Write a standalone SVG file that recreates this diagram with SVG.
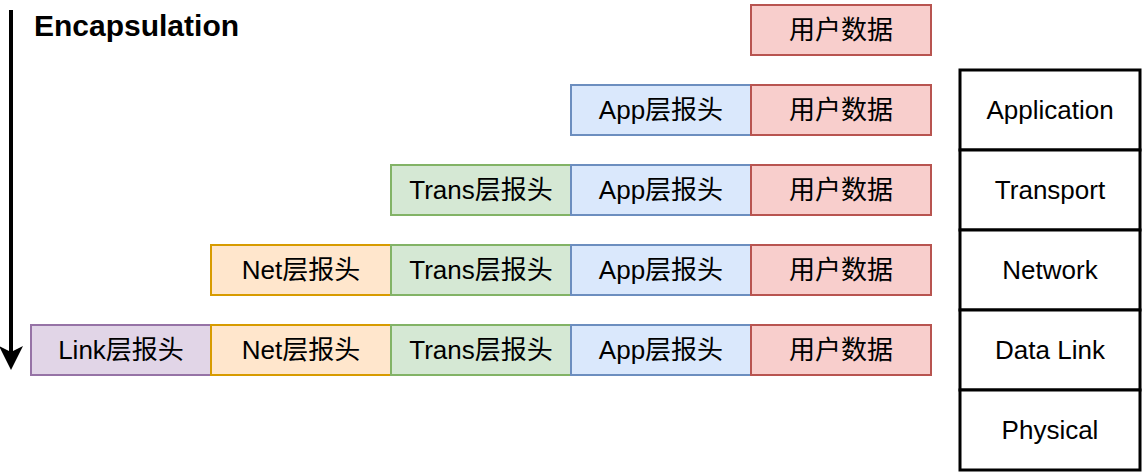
<svg xmlns="http://www.w3.org/2000/svg" width="1142" height="473" viewBox="0 0 1142 473">
<style>
text{font-family:"Liberation Sans","Noto Sans CJK SC",sans-serif;font-size:26px;fill:#000;text-anchor:middle;dominant-baseline:central}
.title{font-size:30px;font-weight:bold;text-anchor:start;dominant-baseline:auto}
rect{stroke-width:2}
.red{fill:#f8cecc;stroke:#b85450}
.blue{fill:#dae8fc;stroke:#6c8ebf}
.green{fill:#d5e8d4;stroke:#82b366}
.orange{fill:#ffe6cc;stroke:#d79b00}
.purple{fill:#e1d5e7;stroke:#9673a6}
.layer{fill:#fff;stroke:#000;stroke-width:3}
</style>
<defs>
<marker id="ah" markerWidth="6" markerHeight="6" refX="5" refY="3" orient="auto" markerUnits="strokeWidth">
<path d="M0,0 L6,3 L0,6 L1.5,3 Z" fill="#000"/>
</marker>
</defs>
<g id="connectors">
<line x1="11" y1="10" x2="11" y2="366" stroke="#000" stroke-width="4" marker-end="url(#ah)"/>
</g>
<g id="title"><text class="title" x="34" y="36">Encapsulation</text></g>
<g id="row1">
<g id="r1-data"><rect class="red" x="751" y="5" width="180" height="50"/><text x="841" y="30">用户数据</text></g>
</g>
<g id="row2">
<g id="r2-app"><rect class="blue" x="571" y="85" width="180" height="50"/><text x="661" y="110">App层报头</text></g>
<g id="r2-data"><rect class="red" x="751" y="85" width="180" height="50"/><text x="841" y="110">用户数据</text></g>
</g>
<g id="row3">
<g id="r3-trans"><rect class="green" x="391" y="165" width="180" height="50"/><text x="481" y="190">Trans层报头</text></g>
<g id="r3-app"><rect class="blue" x="571" y="165" width="180" height="50"/><text x="661" y="190">App层报头</text></g>
<g id="r3-data"><rect class="red" x="751" y="165" width="180" height="50"/><text x="841" y="190">用户数据</text></g>
</g>
<g id="row4">
<g id="r4-net"><rect class="orange" x="211" y="245" width="180" height="50"/><text x="301" y="270">Net层报头</text></g>
<g id="r4-trans"><rect class="green" x="391" y="245" width="180" height="50"/><text x="481" y="270">Trans层报头</text></g>
<g id="r4-app"><rect class="blue" x="571" y="245" width="180" height="50"/><text x="661" y="270">App层报头</text></g>
<g id="r4-data"><rect class="red" x="751" y="245" width="180" height="50"/><text x="841" y="270">用户数据</text></g>
</g>
<g id="row5">
<g id="r5-link"><rect class="purple" x="31" y="325" width="180" height="50"/><text x="121" y="350">Link层报头</text></g>
<g id="r5-net"><rect class="orange" x="211" y="325" width="180" height="50"/><text x="301" y="350">Net层报头</text></g>
<g id="r5-trans"><rect class="green" x="391" y="325" width="180" height="50"/><text x="481" y="350">Trans层报头</text></g>
<g id="r5-app"><rect class="blue" x="571" y="325" width="180" height="50"/><text x="661" y="350">App层报头</text></g>
<g id="r5-data"><rect class="red" x="751" y="325" width="180" height="50"/><text x="841" y="350">用户数据</text></g>
</g>
<g id="layers">
<g id="l-app"><rect class="layer" x="960" y="70" width="180" height="80"/><text x="1050" y="110">Application</text></g>
<g id="l-trans"><rect class="layer" x="960" y="150" width="180" height="80"/><text x="1050" y="190">Transport</text></g>
<g id="l-net"><rect class="layer" x="960" y="230" width="180" height="80"/><text x="1050" y="270">Network</text></g>
<g id="l-link"><rect class="layer" x="960" y="310" width="180" height="80"/><text x="1050" y="350">Data Link</text></g>
<g id="l-phys"><rect class="layer" x="960" y="390" width="180" height="80"/><text x="1050" y="430">Physical</text></g>
</g>
</svg>
